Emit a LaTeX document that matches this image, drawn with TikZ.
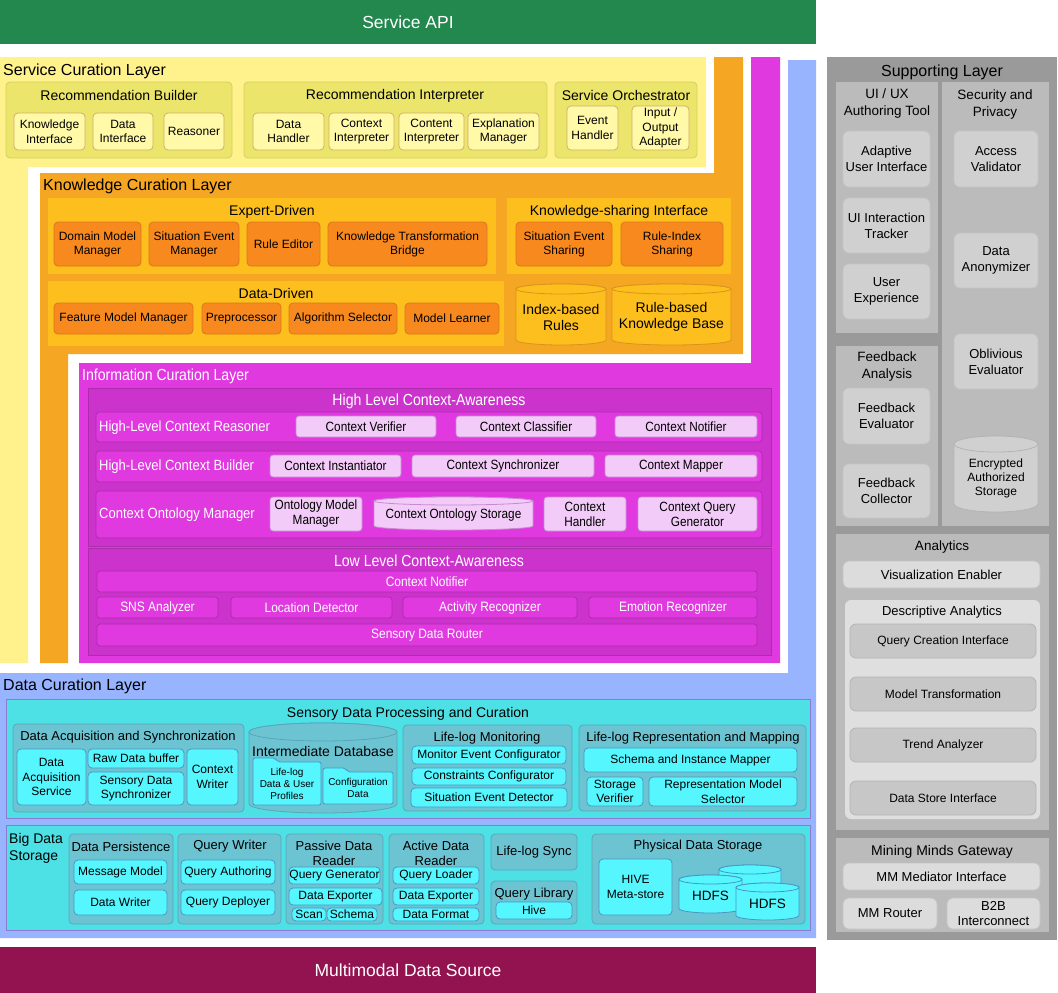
\documentclass[tikz,border=0pt]{standalone}
\usepackage{fontspec}
\setmainfont{Liberation Sans}
\newfontfamily\narrowfont{Liberation Sans}[FakeStretch=0.88]
\usepackage{tikz}
\usetikzlibrary{positioning}
% layer colours
\definecolor{apigreen}{HTML}{22884E}
\definecolor{srcred}{HTML}{931250}
\definecolor{scllayer}{HTML}{FFF28D}
\definecolor{sclgroup}{HTML}{EBE56B}
\definecolor{sclline}{HTML}{D6CF5E}
\definecolor{sclitem}{HTML}{FFF9A8}
\definecolor{sclitemline}{HTML}{D4AE6C}
\definecolor{kcllayer}{HTML}{F5A623}
\definecolor{kclgroup}{HTML}{FDBF1E}
\definecolor{kclitem}{HTML}{F8891F}
\definecolor{kclitemline}{HTML}{DC7719}
\definecolor{kclcylline}{HTML}{D9941C}
\definecolor{icllayer}{HTML}{DF39DF}
\definecolor{iclgroup}{HTML}{CC33CC}
\definecolor{iclline}{HTML}{AD2BAD}
\definecolor{iclitem}{HTML}{F2CBF8}
\definecolor{iclitemline}{HTML}{C68ACF}
\definecolor{dcllayer}{HTML}{98B4FF}
\definecolor{dclbig}{HTML}{4DE1E6}
\definecolor{dclbigline}{HTML}{8A7BD3}
\definecolor{dclgroup}{HTML}{6CC4D3}
\definecolor{dclline}{HTML}{58A6B9}
\definecolor{dclitem}{HTML}{56F6FF}
\definecolor{dclitemline}{HTML}{4797C4}
\definecolor{suplayer}{HTML}{9A9A9A}
\definecolor{supgroup}{HTML}{BBBBBB}
\definecolor{supitem}{HTML}{D0D0D0}
\definecolor{supitemline}{HTML}{C4C4C4}
\definecolor{suplite}{HTML}{DCDCDC}
\definecolor{supdesc}{HTML}{DFDFDF}
\definecolor{supdark}{HTML}{C7C7C7}
\definecolor{supdarkline}{HTML}{B4B4B4}
\newcommand{\setfs}[2]{\fontsize{#1}{#2}\selectfont}
% box between two corners (pixel coordinates): [style]{name}{x1,y1}{x2,y2}{text}
\newcommand{\bx}[5][]{\bxat{#1}{#2}#3,#4\relax{#5}}
\def\bxat#1#2#3,#4,#5,#6\relax#7{%
  \node[#1, minimum width={#5-#3}, minimum height={#6-#4}] (#2) at ({(#3+#5)/2},{(#4+#6)/2}) {#7};}
% upright cylinder: style, name, x1, y1, x2, y2, rim, text
\newcommand{\cyl}[8][]{%
  \draw[#1] ({#3},{#4+#7}) -- ({#3},{#6-#7}) arc (180:0:{(#5-#3)/2} and {#7})
    -- ({#5},{#4+#7}) arc (360:180:{(#5-#3)/2} and {#7}) -- cycle;
  \draw[#1] ({(#3+#5)/2},{#4+#7}) ellipse ({(#5-#3)/2} and {#7});
  \node[#1, draw=none, fill=none, inner sep=0pt, align=center] (#2) at ({(#3+#5)/2},{(#4+#6+#7)/2}) {#8};}
% folder with a tab: name, x1, y1, x2, y2, text
\newcommand{\fold}[6]{%
  \draw[dfold] ({#2},{#3}) -- ({#2+22},{#3}) -- ({#2+25},{#3+4}) -- ({#4},{#3+4}) -- ({#4},{#5}) -- ({#2},{#5}) -- cycle;
  \node[dfoldtxt] (#1) at ({(#2+#4)/2},{(#3+#5)/2+2}) {#6};}
\tikzset{
  blk/.style={inner sep=0pt, align=center, line width=0.8pt},
  apibar/.style={blk, text=white, font=\setfs{17.5}{20}},
  layerttl/.style={inner sep=0pt, anchor=west, yshift=-1.5pt, font=\setfs{16}{18}},
  gttl/.style={inner sep=0pt, align=center, yshift=-1.5pt, font=\setfs{14}{16.5}},
  % service curation
  sgrp/.style={blk, fill=sclgroup, draw=sclline, rounded corners=4pt},
  sitem/.style={blk, fill=sclitem, draw=sclitemline, rounded corners=4pt, font=\setfs{12}{14.5}},
  % knowledge curation
  kgrp/.style={blk, fill=kclgroup},
  kitem/.style={blk, fill=kclitem, draw=kclitemline, rounded corners=4pt, font=\setfs{12}{14}},
  kcyl/.style={fill=kclgroup, draw=kclcylline, line width=0.8pt, font=\setfs{14}{16}},
  % information curation
  igrp/.style={blk, fill=iclgroup, draw=iclline},
  irow/.style={blk, fill=icllayer, draw=iclline, rounded corners=3pt},
  iitem/.style={blk, fill=iclitem, draw=iclitemline, rounded corners=3pt, font=\narrowfont\setfs{13.4}{15}},
  icyl/.style={fill=iclitem, draw=iclitemline, line width=0.8pt, font=\narrowfont\setfs{13.4}{15}},
  ilow/.style={irow, text=white, font=\narrowfont\setfs{13.6}{15}},
  ittl/.style={inner sep=0pt, text=white, yshift=-1.5pt, font=\narrowfont\setfs{16}{18}},
  irowttl/.style={inner sep=0pt, anchor=west, text=white, yshift=-1pt, font=\narrowfont\setfs{14.8}{17}},
  % data curation
  dbig/.style={blk, fill=dclbig, draw=dclbigline},
  dgrp/.style={blk, fill=dclgroup, draw=dclline, rounded corners=4pt, font=\setfs{13}{15}},
  dttl/.style={inner sep=0pt, align=center, yshift=-1.5pt, font=\setfs{13}{15}},
  ditem/.style={blk, fill=dclitem, draw=dclitemline, rounded corners=4pt, font=\setfs{12}{14.5}},
  dcyl/.style={fill=dclitem, draw=dclitemline, line width=0.8pt, font=\setfs{13.5}{15}},
  dbcyl/.style={fill=dclgroup, draw=dclline, line width=0.8pt},
  dfold/.style={fill=dclitem, draw=dclitemline, line width=0.8pt, rounded corners=2pt},
  dfoldtxt/.style={inner sep=0pt, align=center, font=\setfs{10}{12}},
  % supporting
  supgrp/.style={blk, fill=supgroup},
  supttl/.style={inner sep=0pt, align=center, yshift=-2pt, font=\setfs{13.5}{17}},
  supitem/.style={blk, fill=supitem, draw=supitemline, rounded corners=6pt, font=\setfs{13}{16}},
  suplite/.style={blk, fill=suplite, draw=supitemline, rounded corners=6pt, font=\setfs{13}{15}},
  supdesc/.style={blk, fill=supdesc, rounded corners=6pt},
  supdark/.style={blk, fill=supdark, draw=supdarkline, rounded corners=6pt, font=\setfs{12}{14}},
  supcyl/.style={fill=supitem, draw=supdarkline, line width=0.8pt, font=\setfs{12}{14}},
}

\begin{document}
\begin{tikzpicture}[x=1pt, y=-1pt]
  \useasboundingbox (0,0) rectangle (1058,993);
  \fill[white] (0,0) rectangle (1058,993);
  % top and bottom bars
  \bx[apibar, fill=apigreen]{api}{0,0}{816,44}{Service API}
  \bx[apibar, fill=srcred]{mds}{0,947}{816,993}{Multimodal Data Source}
  % the nested L-shaped layers
  \fill[scllayer] (0,57) -- (706,57) -- (706,167) -- (28,167) -- (28,663) -- (0,663) -- cycle;
  \fill[kcllayer] (714,57) -- (743,57) -- (743,354) -- (68,354) -- (68,663) -- (40,663) -- (40,173) -- (714,173) -- cycle;
  \fill[icllayer] (751,57) -- (780,57) -- (780,663) -- (79,663) -- (79,363) -- (751,363) -- cycle;
  \fill[dcllayer] (788,60) -- (816,60) -- (816,938) -- (0,938) -- (0,673) -- (788,673) -- cycle;
  \fill[suplayer] (827,57) rectangle (1057,940);

  % service curation layer
  \node[layerttl] (scl) at (3,70) {Service Curation Layer};
  \bx[sgrp]{rb}{6,82}{232,158}{}
  \node[gttl] (rb-t) at (119,94) {Recommendation Builder};
  \bx[sitem]{ki}{14,113}{85,150}{Knowledge\\Interface}
  \bx[sitem]{di}{93,113}{153,150}{Data\\Interface}
  \bx[sitem]{rs}{164,113}{224,150}{Reasoner}
  \bx[sgrp]{ri}{244,82}{547,158}{}
  \node[gttl] (ri-t) at (395,94) {Recommendation Interpreter};
  \bx[sitem]{dh}{253,113}{324,150}{Data\\Handler}
  \bx[sitem]{ci}{329,113}{394,150}{Context\\Interpreter}
  \bx[sitem]{cti}{399,113}{464,150}{Content\\Interpreter}
  \bx[sitem]{em}{468,113}{539,150}{Explanation\\Manager}
  \bx[sgrp]{so}{555,82}{697,158}{}
  \node[gttl] (so-t) at (626,94) {Service Orchestrator};
  \bx[sitem]{eh}{567,106}{618,150}{Event\\Handler}
  \bx[sitem]{ioa}{632,106}{689,150}{Input /\\Output\\Adapter}

  % knowledge curation layer
  \node[layerttl] (kcl) at (43,185) {Knowledge Curation Layer};
  \bx[kgrp]{ed}{48,198}{496,274}{}
  \node[gttl] (ed-t) at (272,210) {Expert-Driven};
  \bx[kitem]{dmm}{54,222}{141,266}{Domain Model\\Manager}
  \bx[kitem]{sem}{149,222}{239,266}{Situation Event\\Manager}
  \bx[kitem]{red}{247,222}{320,266}{Rule Editor}
  \bx[kitem]{ktb}{328,222}{487,266}{Knowledge Transformation\\Bridge}
  \bx[kgrp]{ksi}{507,198}{731,274}{}
  \node[gttl] (ksi-t) at (619,210) {Knowledge-sharing Interface};
  \bx[kitem]{ses}{516,222}{612,266}{Situation Event\\Sharing}
  \bx[kitem]{ris}{621,222}{723,266}{Rule-Index\\Sharing}
  \bx[kgrp]{dd}{48,281}{504,346}{}
  \node[gttl] (dd-t) at (276,292) {Data-Driven};
  \bx[kitem]{fmm}{54,303}{193,334}{Feature Model Manager}
  \bx[kitem]{pre}{202,303}{281,334}{Preprocessor}
  \bx[kitem]{als}{289,303}{397,334}{Algorithm Selector}
  \bx[kitem]{mle}{405,303}{499,334}{Model Learner}
  \cyl[kcyl]{ibr}{516}{284}{606}{345}{5}{Index-based\\Rules}
  \cyl[kcyl]{rkb}{612}{284}{731}{345}{5}{Rule-based\\Knowledge Base}

  % information curation layer
  \node[ittl, anchor=west] (icl) at (82,375) {Information Curation Layer};
  \bx[igrp]{hlca}{88,388}{771,546}{}
  \node[ittl] (hlca-t) at (429,400) {High Level Context-Awareness};
  \bx[irow]{hlcr}{96,412}{762,442}{}
  \node[irowttl] (hlcr-t) at (99,427) {High-Level Context Reasoner};
  \bx[iitem]{cv}{296,416}{436,437}{Context Verifier}
  \bx[iitem]{cc}{456,416}{596,437}{Context Classifier}
  \bx[iitem]{cn}{615,416}{757,437}{Context Notifier}
  \bx[irow]{hlcb}{96,451}{762,482}{}
  \node[irowttl] (hlcb-t) at (99,466) {High-Level Context Builder};
  \bx[iitem]{cins}{270,455}{401,477}{Context Instantiator}
  \bx[iitem]{csy}{412,455}{594,477}{Context Synchronizer}
  \bx[iitem]{cmp}{605,455}{757,477}{Context Mapper}
  \bx[irow]{com}{96,491}{762,538}{}
  \node[irowttl] (com-t) at (99,514) {Context Ontology Manager};
  \bx[iitem]{omm}{270,497}{362,531}{Ontology Model\\Manager}
  \cyl[icyl]{cos}{374}{497}{533}{530}{4}{Context Ontology Storage}
  \bx[iitem]{chd}{544,497}{626,531}{Context\\Handler}
  \bx[iitem]{cqg}{638,497}{757,531}{Context Query\\Generator}
  \bx[igrp]{llca}{88,548}{771,655}{}
  \node[ittl] (llca-t) at (429,559) {Low Level Context-Awareness};
  \bx[ilow]{lcn}{97,571}{757,592}{Context Notifier}
  \bx[ilow]{sns}{97,597}{218,618}{SNS Analyzer}
  \bx[ilow]{lod}{231,597}{392,618}{Location Detector}
  \bx[ilow]{acr}{403,597}{577,618}{Activity Recognizer}
  \bx[ilow]{emr}{589,597}{757,618}{Emotion Recognizer}
  \bx[ilow]{sdr}{97,624}{757,646}{Sensory Data Router}

  % data curation layer
  \node[layerttl] (dcl) at (3,685) {Data Curation Layer};
  \bx[dbig]{sdpc}{6,699}{810,818}{}
  \node[gttl] (sdpc-t) at (408,712) {Sensory Data Processing and Curation};
  \bx[dgrp]{das}{13,724}{244,812}{}
  \node[dttl] (das-t) at (128,736) {Data Acquisition and Synchronization};
  \bx[ditem]{dacq}{17,749}{86,805}{Data\\Acquisition\\Service}
  \bx[ditem]{rdb}{88,749}{184,768}{Raw Data buffer}
  \bx[ditem]{sds}{88,772}{184,805}{Sensory Data\\Synchronizer}
  \bx[ditem]{cwr}{187,749}{238,805}{Context\\Writer}
  \cyl[dbcyl]{idb}{249}{723}{397}{813}{9}{}
  \node[gttl] (idb-t) at (323,749.5) {Intermediate Database};
  \fold{lld}{253}{758}{321}{805}{Life-log\\Data \& User\\Profiles}
  \fold{cfd}{323}{768}{393}{804}{Configuration\\Data}
  \bx[dgrp]{llm}{403,725}{572,811}{}
  \node[dttl] (llm-t) at (487,737) {Life-log Monitoring};
  \bx[ditem]{mec}{412,746}{566,764}{Monitor Event Configurator}
  \bx[ditem]{cco}{412,768}{566,785}{Constraints Configurator}
  \bx[ditem]{sed}{411,788}{567,807}{Situation Event Detector}
  \bx[dgrp]{lrm}{579,725}{806,811}{}
  \node[dttl] (lrm-t) at (693,737) {Life-log Representation and Mapping};
  \bx[ditem]{sim}{584,748}{797,772}{Schema and Instance Mapper}
  \bx[ditem]{stv}{587,777}{643,806}{Storage\\Verifier}
  \bx[ditem]{rms}{649,777}{797,806}{Representation Model\\Selector}

  % big data storage
  \bx[dbig]{bds}{6,825}{810,930}{}
  \node[gttl, anchor=north west, align=left] (bds-t) at (9,832) {Big Data\\Storage};
  \bx[dgrp]{dpe}{69,834}{173,924}{}
  \node[dttl] (dpe-t) at (121,845) {Data Persistence};
  \bx[ditem]{mmo}{74,860}{167,884}{Message Model}
  \bx[ditem]{dwr}{74,890}{167,915}{Data Writer}
  \bx[dgrp]{qwr}{178,834}{281,924}{}
  \node[dttl] (qwr-t) at (230,845) {Query Writer};
  \bx[ditem]{qau}{181,860}{275,884}{Query Authoring}
  \bx[ditem]{qde}{181,890}{275,915}{Query Deployer}
  \bx[dgrp]{pdr}{286,834}{383,924}{}
  \node[dttl] (pdr-t) at (334,852) {Passive Data\\Reader};
  \bx[ditem]{qge}{289,867}{380,884}{Query Generator}
  \bx[ditem]{pde}{289,888}{382,905}{Data Exporter}
  \bx[ditem]{scn}{292,908}{326,921}{Scan}
  \bx[ditem]{sch}{327,908}{377,921}{Schema}
  \bx[dgrp]{adr}{389,834}{484,924}{}
  \node[dttl] (adr-t) at (436,852) {Active Data\\Reader};
  \bx[ditem]{qlo}{393,867}{479,884}{Query Loader}
  \bx[ditem]{ade}{393,888}{479,905}{Data Exporter}
  \bx[ditem]{dfo}{393,908}{479,921}{Data Format}
  \bx[dgrp]{lls}{491,834}{577,870}{Life-log Sync}
  \bx[dgrp]{qli}{491,881}{577,924}{}
  \node[dttl] (qli-t) at (534,893) {Query Library};
  \bx[ditem]{hiv}{496,902}{572,919}{Hive}
  \bx[dgrp]{pds}{592,834}{805,924}{}
  \node[dttl] (pds-t) at (698,845) {Physical Data Storage};
  \bx[ditem]{hms}{599,859}{672,915}{HIVE\\Meta-store}
  \cyl[dcyl]{hdf0}{719}{865}{781}{902}{4.5}{}
  \cyl[dcyl]{hdf1}{679}{875}{742}{913}{4.5}{HDFS}
  \cyl[dcyl]{hdf2}{736}{883}{799}{920}{4.5}{HDFS}

  % supporting layer
  \node[layerttl, anchor=center] (spl) at (942,71) {Supporting Layer};
  \bx[supgrp]{uix}{836,82}{938,333}{}
  \node[supttl] (uix-t) at (887,102) {UI / UX\\Authoring Tool};
  \bx[supitem]{aui}{843,131}{930,187}{Adaptive\\User Interface}
  \bx[supitem]{uit}{843,198}{930,253}{UI Interaction\\Tracker}
  \bx[supitem]{uex}{843,264}{930,319}{User\\Experience}
  \bx[supgrp]{fba}{836,346}{938,526}{}
  \node[supttl] (fba-t) at (887,365) {Feedback\\Analysis};
  \bx[supitem]{fbe}{843,388}{930,444}{Feedback\\Evaluator}
  \bx[supitem]{fbc}{843,464}{930,518}{Feedback\\Collector}
  \bx[supgrp]{sec}{942,82}{1049,526}{}
  \node[supttl] (sec-t) at (995,103) {Security and\\Privacy};
  \bx[supitem]{acv}{954,131}{1038,187}{Access\\Validator}
  \bx[supitem]{dan}{954,233}{1038,288}{Data\\Anonymizer}
  \bx[supitem]{obe}{954,334}{1038,389}{Oblivious\\Evaluator}
  \cyl[supcyl]{eas}{954}{436}{1038}{512}{8}{Encrypted\\Authorized\\Storage}
  \bx[supgrp]{ana}{836,534}{1049,830}{}
  \node[supttl] (ana-t) at (942,545) {Analytics};
  \bx[suplite]{ven}{843,561}{1040,588}{Visualization Enabler}
  \bx[supdesc]{dsc}{845,600}{1040,819}{}
  \node[supttl, font=\setfs{13}{15}] (dsc-t) at (942,610) {Descriptive Analytics};
  \bx[supdark]{qci}{850,624}{1036,658}{Query Creation Interface}
  \bx[supdark]{mtr}{850,677}{1036,711}{Model Transformation}
  \bx[supdark]{tan}{850,728}{1036,762}{Trend Analyzer}
  \bx[supdark]{dsi}{850,781}{1036,815}{Data Store Interface}
  \bx[supgrp]{mmg}{836,838}{1049,932}{}
  \node[supttl, font=\setfs{14}{16}] (mmg-t) at (942,850) {Mining Minds Gateway};
  \bx[suplite]{mmi}{843,863}{1040,890}{MM Mediator Interface}
  \bx[suplite]{mmr}{843,898}{937,929}{MM Router}
  \bx[suplite]{b2b}{947,898}{1040,929}{B2B\\Interconnect}
\end{tikzpicture}
\end{document}
